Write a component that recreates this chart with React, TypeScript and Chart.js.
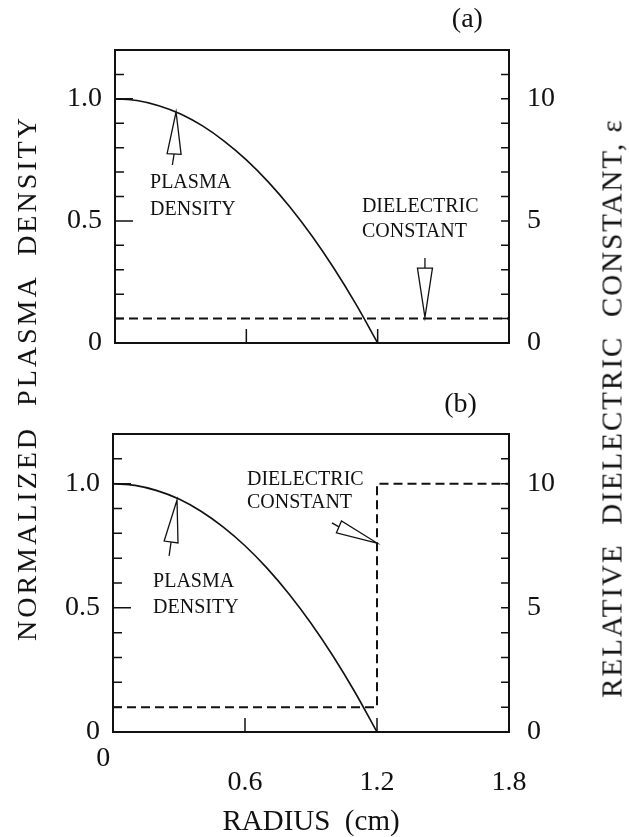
import React, { useEffect, useRef } from 'react';
import { Chart, registerables } from 'chart.js';

Chart.register(...registerables);

// ---------- data ----------
const radius = [0, 0.1, 0.2, 0.3, 0.4, 0.5, 0.6, 0.7, 0.8, 0.9, 1.0, 1.1, 1.2];
const densityA = [1.0, 0.993, 0.972, 0.938, 0.889, 0.826, 0.75, 0.66, 0.556, 0.438, 0.306, 0.16, 0.0];
const densityB = [1.0, 0.993, 0.972, 0.938, 0.889, 0.826, 0.75, 0.66, 0.556, 0.438, 0.306, 0.16, 0.0];

const dielRadiusA = [0, 1.8];
const dielA = [1, 1];
const dielRadiusB = [0, 1.2, 1.2, 1.8];
const dielB = [1, 1, 10, 10];

const densityTickValues = [0, 0.5, 1.0];
const densityTickLabels = ['0', '0.5', '1.0'];
const epsTickValues = [0, 5, 10];
const epsTickLabels = ['0', '5', '10'];
const radiusTickValues = [0, 0.6, 1.2, 1.8];
const radiusTickLabels = ['0', '0.6', '1.2', '1.8'];

const FONT = '"Liberation Serif", "Times New Roman", serif';
const INK = '#111';

type Note = { text: string; x: number; y: number; align?: CanvasTextAlign; size?: number };
type Arrow = { tip: [number, number]; base: [number, number]; stem: [number, number]; half: number };

const notesA: Note[] = [
  { text: '(a)', x: 1.61, y: 1.323, align: 'center', size: 28 },
  { text: 'PLASMA', x: 0.16, y: 0.655 },
  { text: 'DENSITY', x: 0.16, y: 0.545 },
  { text: 'DIELECTRIC', x: 1.128, y: 0.557 },
  { text: 'CONSTANT', x: 1.128, y: 0.455 },
];
const arrowsA: Arrow[] = [
  { tip: [0.279, 0.946], base: [0.27, 0.774], stem: [0.262, 0.729], half: 7 },
  { tip: [1.416, 0.105], base: [1.416, 0.307], stem: [1.416, 0.348], half: 7.5 },
];
const notesB: Note[] = [
  { text: '(b)', x: 1.58, y: 1.317, align: 'center', size: 28 },
  { text: 'PLASMA', x: 0.182, y: 0.604 },
  { text: 'DENSITY', x: 0.182, y: 0.499 },
  { text: 'DIELECTRIC', x: 0.609, y: 1.015 },
  { text: 'CONSTANT', x: 0.609, y: 0.922 },
];
const arrowsB: Arrow[] = [
  { tip: [0.291, 0.934], base: [0.264, 0.765], stem: [0.255, 0.709], half: 7 },
  { tip: [1.2, 0.761], base: [1.027, 0.826], stem: [0.995, 0.842], half: 6.5 },
];

const near = (a: number, b: number) => Math.abs(a - b) < 1e-6;

function labelFor(values: number[], labels: any[], v: number) {
  const i = values.findIndex((t) => near(t, v));
  return i >= 0 ? labels[i] : '';
}

function decorPlugin(notes: Note[], arrows: Arrow[]) {
  return {
    id: 'decor',
    afterDraw(chart: any) {
      const { ctx, chartArea: ca, scales } = chart;
      const sx = scales.x, sy = scales.y, sy2 = scales.y2;
      ctx.save();
      ctx.strokeStyle = INK;
      ctx.fillStyle = INK;
      ctx.lineCap = 'butt';
      // frame
      ctx.lineWidth = 2;
      ctx.strokeRect(ca.left, ca.top, ca.right - ca.left, ca.bottom - ca.top);
      // inward ticks
      ctx.lineWidth = 1.5;
      ctx.beginPath();
      sy.ticks.forEach((t: any) => {
        if (near(t.value, sy.min) || near(t.value, sy.max)) return;
        const p = sy.getPixelForValue(t.value);
        const len = near(t.value, 0.5) || near(t.value, 1.0) ? 18 : 9;
        ctx.moveTo(ca.left, p);
        ctx.lineTo(ca.left + len, p);
      });
      sy2.ticks.forEach((t: any) => {
        if (near(t.value, sy2.min) || near(t.value, sy2.max)) return;
        const p = sy2.getPixelForValue(t.value);
        ctx.moveTo(ca.right, p);
        ctx.lineTo(ca.right - 8, p);
      });
      sx.ticks.forEach((t: any) => {
        if (near(t.value, sx.min) || near(t.value, sx.max)) return;
        const p = sx.getPixelForValue(t.value);
        ctx.moveTo(p, ca.bottom);
        ctx.lineTo(p, ca.bottom - 14);
      });
      ctx.stroke();
      // arrows
      ctx.lineWidth = 1.3;
      arrows.forEach((a) => {
        const tx = sx.getPixelForValue(a.tip[0]), ty = sy.getPixelForValue(a.tip[1]);
        const bx = sx.getPixelForValue(a.base[0]), by = sy.getPixelForValue(a.base[1]);
        const ex = sx.getPixelForValue(a.stem[0]), ey = sy.getPixelForValue(a.stem[1]);
        const dx = tx - bx, dy = ty - by;
        const L = Math.hypot(dx, dy);
        const nx = -dy / L, ny = dx / L;
        ctx.beginPath();
        ctx.moveTo(tx, ty);
        ctx.lineTo(bx + nx * a.half, by + ny * a.half);
        ctx.lineTo(bx - nx * a.half, by - ny * a.half);
        ctx.closePath();
        ctx.fillStyle = '#fff';
        ctx.fill();
        ctx.stroke();
        ctx.beginPath();
        ctx.moveTo(bx, by);
        ctx.lineTo(ex, ey);
        ctx.stroke();
      });
      // notes
      ctx.fillStyle = INK;
      ctx.textBaseline = 'middle';
      notes.forEach((n) => {
        ctx.font = `${n.size || 20}px ${FONT}`;
        ctx.textAlign = n.align || 'left';
        ctx.fillText(n.text, sx.getPixelForValue(n.x), sy.getPixelForValue(n.y));
      });
      ctx.restore();
    },
  };
}

type PanelCfg = {
  padTop: number;
  leftW: number;
  rightW: number;
  bottomH: number;
  density: number[];
  dielR: number[];
  diel: number[];
  showX: boolean;
  notes: Note[];
  arrows: Arrow[];
};

function buildChart(canvas: HTMLCanvasElement, c: PanelCfg) {
  const tickFont = { family: FONT, size: 28 };
  return new Chart(canvas, {
    type: 'line',
    data: {
      datasets: [
        {
          data: radius.map((r, i) => ({ x: r, y: c.density[i] })),
          borderColor: INK,
          borderWidth: 1.6,
          pointRadius: 0,
          cubicInterpolationMode: 'monotone',
          yAxisID: 'y',
          fill: false,
        },
        {
          data: c.dielR.map((r, i) => ({ x: r, y: c.diel[i] })),
          borderColor: INK,
          borderWidth: 2,
          borderDash: [9, 5],
          pointRadius: 0,
          tension: 0,
          yAxisID: 'y2',
          fill: false,
        },
      ],
    } as any,
    options: {
      animation: false,
      responsive: false,
      maintainAspectRatio: false,
      devicePixelRatio: 1,
      layout: { padding: { top: c.padTop, left: 0, right: 0, bottom: 0 } },
      plugins: { legend: { display: false }, tooltip: { enabled: false }, title: { display: false } },
      scales: {
        x: {
          type: 'linear',
          min: 0,
          max: 1.8,
          grid: { display: false, drawTicks: false },
          border: { display: false },
          ticks: {
            display: c.showX,
            stepSize: 0.6,
            autoSkip: false,
            maxRotation: 0,
            padding: 14,
            color: INK,
            font: { family: FONT, size: 28, lineHeight: 0.88 },
            callback: (v: any) => {
              const lab = labelFor(radiusTickValues, radiusTickLabels, Number(v));
              if (lab === '') return '';
              return near(Number(v), 0) ? [lab + '\u2002\u2009', ''] : ['', lab];
            },
          },
          title: {
            display: c.showX,
            text: 'RADIUS  (cm)',
            color: INK,
            font: { family: FONT, size: 29, lineHeight: 1 },
            padding: { top: 0, bottom: 0 },
          },
          afterFit: (s: any) => { s.height = c.bottomH; },
        },
        y: {
          type: 'linear',
          position: 'left',
          min: 0,
          max: 1.2,
          grid: { display: false, drawTicks: false },
          border: { display: false },
          ticks: {
            stepSize: 0.1,
            autoSkip: false,
            padding: 13,
            crossAlign: 'near',
            color: INK,
            font: tickFont,
            callback: (v: any) => labelFor(densityTickValues, densityTickLabels, Number(v)),
          },
          afterFit: (s: any) => { s.width = c.leftW; },
        },
        y2: {
          type: 'linear',
          position: 'right',
          min: 0,
          max: 12,
          grid: { display: false, drawTicks: false },
          border: { display: false },
          ticks: {
            stepSize: 1,
            autoSkip: false,
            padding: 18,
            crossAlign: 'near',
            color: INK,
            font: tickFont,
            callback: (v: any) => labelFor(epsTickValues, epsTickLabels, Number(v)),
          },
          afterFit: (s: any) => { s.width = c.rightW; },
        },
      },
    } as any,
    plugins: [decorPlugin(c.notes, c.arrows)],
  });
}

export default function App() {
  const refA = useRef<HTMLCanvasElement>(null);
  const refB = useRef<HTMLCanvasElement>(null);

  useEffect(() => {
    const a = buildChart(refA.current!, {
      padTop: 50, leftW: 115, rightW: 120, bottomH: 37,
      density: densityA, dielR: dielRadiusA, diel: dielA, showX: false,
      notes: notesA, arrows: arrowsA,
    });
    const b = buildChart(refB.current!, {
      padTop: 54, leftW: 113, rightW: 120, bottomH: 105,
      density: densityB, dielR: dielRadiusB, diel: dielB, showX: true,
      notes: notesB, arrows: arrowsB,
    });
    return () => { a.destroy(); b.destroy(); };
  }, []);

  const titleBase: React.CSSProperties = {
    position: 'absolute',
    transform: 'translate(-50%, -50%) rotate(-90deg)',
    whiteSpace: 'pre',
    fontFamily: FONT,
    color: INK,
    lineHeight: 1,
  };

  return (
    <div style={{ position: 'fixed', left: 0, top: 0, width: 629, height: 837, background: '#fff', overflow: 'hidden' }}>
      <canvas ref={refA} width={629} height={380} style={{ position: 'absolute', left: 0, top: 0, width: 629, height: 380 }} />
      <canvas ref={refB} width={629} height={457} style={{ position: 'absolute', left: 0, top: 380, width: 629, height: 457 }} />
      <div style={{ ...titleBase, left: 27, top: 378, fontSize: 28, letterSpacing: 3 }}>NORMALIZED  PLASMA  DENSITY</div>
      <div style={{ ...titleBase, left: 612, top: 408, fontSize: 29, letterSpacing: 2 }}>RELATIVE  DIELECTRIC  CONSTANT, ε</div>
    </div>
  );
}
